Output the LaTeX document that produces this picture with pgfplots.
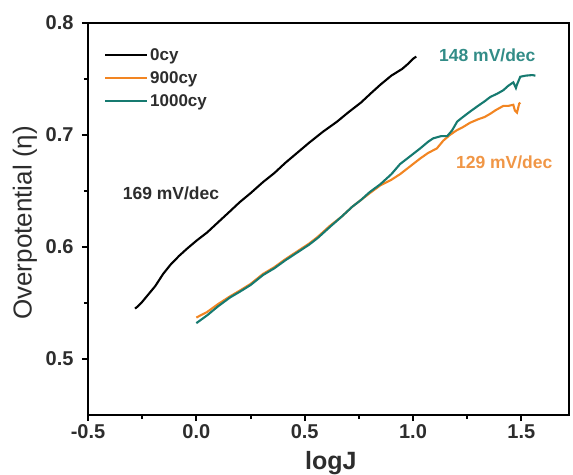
\documentclass[border=0pt]{standalone}
\usepackage{fontspec}
\setmainfont{Liberation Sans}
\usepackage{pgfplots}
\pgfplotsset{compat=1.18}
\definecolor{cOrange}{RGB}{242,133,34}
\definecolor{cTeal}{RGB}{22,122,112}
\definecolor{lTeal}{RGB}{50,140,135}
\definecolor{lOrange}{RGB}{240,150,70}
\definecolor{tickgray}{RGB}{45,45,45}
\begin{document}
\begin{tikzpicture}
\path[use as bounding box] (-88pt,-59pt) rectangle (485pt,415pt);
\begin{axis}[
  at={(0pt,0pt)}, anchor=south west,
  scale only axis, width=481pt, height=392pt,
  xmin=-0.5, xmax=1.72, ymin=0.45, ymax=0.8,
  xtick={-0.5,0,0.5,1,1.5}, ytick={0.5,0.6,0.7,0.8},
  minor x tick num=1, minor y tick num=1,
  tick pos=left, tick align=outside,
  major tick length=6pt, minor tick length=4pt,
  every tick/.style={black, line width=2pt},
  axis line style={line width=2.4pt},
  /pgf/number format/assume math mode=true,
  xticklabel={\pgfmathprintnumber[fixed,fixed zerofill,precision=1]{\tick}},
  yticklabel={\pgfmathprintnumber[fixed,fixed zerofill,precision=1]{\tick}},
  ticklabel style={font=\fontsize{20}{22}\selectfont\bfseries, text=tickgray},
  yticklabel style={xshift=-5pt},
  xlabel={logJ}, ylabel={Overpotential (η)},
  xlabel style={font=\fontsize{25}{28}\selectfont\bfseries, text=tickgray, at={(axis description cs:0.505,-0.140)}, anchor=base},
  ylabel style={font=\fontsize{26}{28}\selectfont, text=tickgray, at={(axis description cs:-0.131,0.49)}, anchor=center},
  legend style={at={(axis description cs:0.033,0.94)}, anchor=north west, draw=none, fill=none,
    font=\fontsize{17}{20}\selectfont\bfseries, text=tickgray, row sep=5.5pt, inner sep=0pt,
    cells={anchor=west}},
  legend image code/.code={\draw[#1] (0pt,0pt) -- (42pt,0pt);},
]
\addplot[black, line width=2.1pt] coordinates {
(-0.283,0.545) (-0.27,0.547) (-0.25,0.551) (-0.22,0.558) (-0.19,0.565) (-0.153,0.576)
(-0.12,0.584) (-0.08,0.592) (-0.04,0.599) (0.003,0.606) (0.05,0.613) (0.1,0.622)
(0.156,0.632) (0.2,0.640) (0.25,0.648) (0.308,0.658) (0.36,0.666) (0.41,0.675)
(0.465,0.684) (0.52,0.693) (0.585,0.703) (0.65,0.712) (0.7,0.720) (0.76,0.729)
(0.81,0.738) (0.85,0.745) (0.9,0.753) (0.95,0.759) (0.98,0.764) (1.0,0.768) (1.015,0.770)
};
\addlegendentry{0cy}
\addplot[cOrange, line width=2.1pt] coordinates {
(0.0,0.537) (0.05,0.542) (0.1,0.549) (0.156,0.556) (0.2,0.561) (0.25,0.567)
(0.308,0.576) (0.36,0.582) (0.41,0.589) (0.465,0.596) (0.52,0.603) (0.56,0.609)
(0.617,0.619) (0.67,0.627) (0.72,0.636) (0.76,0.642) (0.80,0.648) (0.849,0.655)
(0.9,0.660) (0.94,0.665) (0.98,0.671) (1.033,0.679) (1.07,0.684) (1.11,0.688)
(1.14,0.695) (1.17,0.700) (1.2,0.704) (1.23,0.707) (1.264,0.711) (1.3,0.714)
(1.33,0.716) (1.357,0.719) (1.38,0.722) (1.417,0.726) (1.44,0.726) (1.463,0.727)
(1.47,0.722) (1.48,0.720) (1.49,0.728) (1.495,0.729)
};
\addlegendentry{900cy}
\addplot[cTeal, line width=2.1pt] coordinates {
(0.0,0.532) (0.05,0.539) (0.1,0.547) (0.156,0.555) (0.2,0.560) (0.25,0.566)
(0.308,0.575) (0.36,0.581) (0.41,0.588) (0.465,0.595) (0.52,0.602) (0.56,0.608)
(0.617,0.618) (0.67,0.627) (0.72,0.636) (0.76,0.642) (0.80,0.649) (0.849,0.656)
(0.9,0.665) (0.94,0.674) (0.98,0.680) (1.033,0.688) (1.07,0.694) (1.093,0.697)
(1.13,0.699) (1.158,0.699) (1.18,0.704) (1.204,0.712) (1.23,0.716) (1.264,0.721)
(1.3,0.726) (1.33,0.730) (1.357,0.734) (1.39,0.737) (1.417,0.740) (1.44,0.744)
(1.463,0.747) (1.475,0.742) (1.48,0.745) (1.495,0.752) (1.52,0.753) (1.55,0.7535) (1.565,0.753)
};
\addlegendentry{1000cy}
\node[font=\fontsize{17.5}{20}\selectfont\bfseries, text=tickgray] at (axis cs:-0.117,0.648) {169 mV/dec};
\node[font=\fontsize{17.5}{20}\selectfont\bfseries, text=lTeal] at (axis cs:1.343,0.771) {148 mV/dec};
\node[font=\fontsize{17.5}{20}\selectfont\bfseries, text=lOrange] at (axis cs:1.421,0.676) {129 mV/dec};
\end{axis}
\end{tikzpicture}
\end{document}
